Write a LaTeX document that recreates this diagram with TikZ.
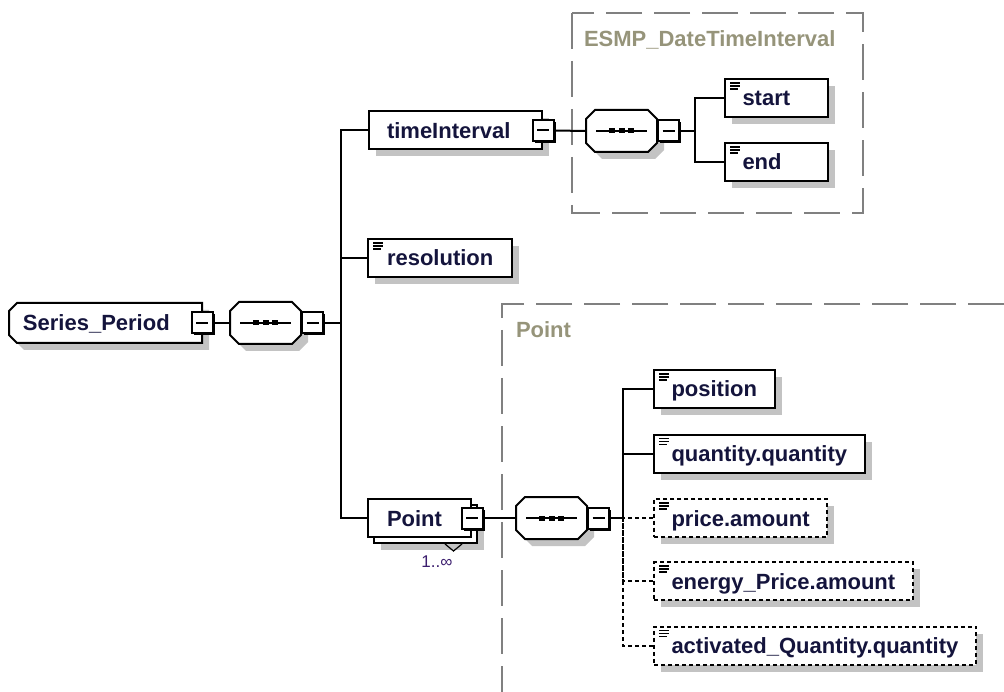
\documentclass[tikz,border=0pt]{standalone}
\usepackage{fontspec}
\setmainfont{Liberation Sans}
\usetikzlibrary{shadows}

\definecolor{elemtext}{RGB}{20,20,60}
\definecolor{grouptext}{RGB}{150,148,122}
\definecolor{shadowgray}{RGB}{195,195,195}
\definecolor{occurs}{RGB}{60,30,110}

% box with cut corners (all four, or only the left two)
\makeatletter
\newif\ifoctbox@right \octbox@righttrue
\pgfkeys{/pgf/octbox cut/.initial=9pt}
\tikzset{left cut only/.code={\octbox@rightfalse}}
\pgfdeclareshape{octbox}{
  \inheritsavedanchors[from=rectangle]
  \inheritanchorborder[from=rectangle]
  \inheritanchor[from=rectangle]{center}
  \inheritanchor[from=rectangle]{mid}
  \inheritanchor[from=rectangle]{base}
  \inheritanchor[from=rectangle]{north}
  \inheritanchor[from=rectangle]{south}
  \inheritanchor[from=rectangle]{east}
  \inheritanchor[from=rectangle]{west}
  \inheritanchor[from=rectangle]{north east}
  \inheritanchor[from=rectangle]{north west}
  \inheritanchor[from=rectangle]{south east}
  \inheritanchor[from=rectangle]{south west}
  \backgroundpath{%
    \southwest \pgf@xa=\pgf@x \pgf@ya=\pgf@y
    \northeast \pgf@xb=\pgf@x \pgf@yb=\pgf@y
    \pgfmathsetlength\pgf@xc{\pgfkeysvalueof{/pgf/octbox cut}}%
    \edef\ob@l{\the\pgf@xa}\edef\ob@r{\the\pgf@xb}%
    \edef\ob@b{\the\pgf@ya}\edef\ob@t{\the\pgf@yb}%
    \advance\pgf@xa by\pgf@xc \advance\pgf@xb by-\pgf@xc
    \advance\pgf@ya by\pgf@xc \advance\pgf@yb by-\pgf@xc
    \edef\ob@li{\the\pgf@xa}\edef\ob@ri{\the\pgf@xb}%
    \edef\ob@bi{\the\pgf@ya}\edef\ob@ti{\the\pgf@yb}%
    \pgfpathmoveto{\pgfqpoint{\ob@li}{\ob@t}}%
    \ifoctbox@right
      \pgfpathlineto{\pgfqpoint{\ob@ri}{\ob@t}}%
      \pgfpathlineto{\pgfqpoint{\ob@r}{\ob@ti}}%
      \pgfpathlineto{\pgfqpoint{\ob@r}{\ob@bi}}%
      \pgfpathlineto{\pgfqpoint{\ob@ri}{\ob@b}}%
    \else
      \pgfpathlineto{\pgfqpoint{\ob@r}{\ob@t}}%
      \pgfpathlineto{\pgfqpoint{\ob@r}{\ob@b}}%
    \fi
    \pgfpathlineto{\pgfqpoint{\ob@li}{\ob@b}}%
    \pgfpathlineto{\pgfqpoint{\ob@l}{\ob@bi}}%
    \pgfpathlineto{\pgfqpoint{\ob@l}{\ob@ti}}%
    \pgfpathclose
  }
}
\makeatother

\begin{document}
\begin{tikzpicture}[x=1pt, y=-1pt, line width=2pt,
      boxshadow/.style={drop shadow={shadow xshift=#1, shadow yshift=-#1, fill=shadowgray, opacity=1}},
      boxshadow/.default=7pt,
      box/.style={draw, fill=white, font=\fontsize{22}{24}\selectfont\bfseries, text=elemtext,
        minimum height=38pt, text height=16pt, text depth=0pt},
      leaf/.style={box, boxshadow, anchor=west, inner xsep=17.5pt, minimum width=103pt,
        path picture={
          \foreach \dy/\len in {4/10, 7/10, 10/8}
            \draw[solid, line width=1.1pt] ([shift={(5,\dy)}]path picture bounding box.north west) -- ++(\len,0);}},
      parent/.style={box, anchor=west, align=left, text width=#1},
      optional/.style={dash pattern=on 4pt off 3pt},
      seq/.style={octbox, draw, fill=white, boxshadow, anchor=west, inner sep=0pt,
        minimum width=69pt, minimum height=40pt,
        path picture={
          \draw ([xshift=10pt]path picture bounding box.west) -- ([xshift=-10pt]path picture bounding box.east);
          \foreach \dx in {-9.5, 0, 9.5}
            \fill[black] ([xshift=\dx pt]path picture bounding box.center) +(-3,-2.5) rectangle +(3,2.5);}},
      minus/.style={draw, fill=white, minimum size=21pt, inner sep=0pt,
        drop shadow={shadow xshift=2pt, shadow yshift=-2pt, fill=black, opacity=1},
        path picture={
          \draw ([xshift=4.5pt]path picture bounding box.west) -- ([xshift=-4.5pt]path picture bounding box.east);}},
      group/.style={draw=gray, line width=1.5pt, dash pattern=on 36pt off 12pt},
      grouplabel/.style={anchor=base west, inner sep=0pt, text=grouptext,
        font=\fontsize{22}{24}\selectfont\bfseries}]

    \useasboundingbox (0,0) rectangle (1004,692);

    % dashed group frames
    \draw[group] (572,13) rectangle (863,213);
    \node[grouplabel] (esmplbl) at (583,47) {ESMP\_DateTimeInterval};
    \draw[group] (1004,304) -- (502,304) -- (502,692);
    \node[grouplabel] (pointlbl) at (515,338) {Point};

    % root
    \node[parent=165pt, inner xsep=13pt, boxshadow, octbox, octbox cut=8pt, left cut only] (series) at (9,323) {Series\_Period};
    \node[minus] (seriesx) at (series.east) {};
    \node[seq] (seq1) at (230,323) {};
    \node[minus, anchor=west] (seq1x) at (seq1.east) {};
    \coordinate (trunk1) at (341,323);

    \node[parent=137pt, inner xsep=18pt, boxshadow] (timeint) at (368,130.5) {timeInterval};
    \node[minus] (timeintx) at (timeint.east) {};
    \node[leaf, inner xsep=19pt] (resolution) at (367,258) {resolution};
    \node[parent=65pt, inner xsep=19pt, boxshadow=13pt,
          copy shadow={shadow xshift=6pt, shadow yshift=-6pt}] (point) at (367,518) {Point};
    \node[minus] (pointx) at (point.east) {};
    \draw[line width=1.2pt] ([shift={(-27,6)}]point.south east) -- ++(8.5,7) -- ++(8.5,-7);
    \node[anchor=base, inner sep=0pt, text=occurs, font=\fontsize{17}{18}\selectfont] (pointocc) at (437,567) {1..∞};

    \draw (seriesx.east) -- (seq1.west);
    \draw (seq1x.east) -- (trunk1);
    \draw (timeint.west) -| (trunk1);
    \draw (resolution.west) -| (trunk1);
    \draw (point.west) -| (trunk1);

    % ESMP_DateTimeInterval
    \node[seq] (seq2) at (586,131) {};
    \node[minus, anchor=west] (seq2x) at (seq2.east) {};
    \coordinate (trunk2) at (695,131);
    \node[leaf, text width=68pt, align=left] (start) at (724,98) {start};
    \node[leaf, text width=68pt, align=left] (end) at (724,162) {end};

    \draw (timeintx.east) -- (seq2.west);
    \draw (seq2x.east) -- (trunk2);
    \draw (start.west) -| (trunk2);
    \draw (end.west) -| (trunk2);

    % Point
    \node[seq] (seq3) at (516,518) {};
    \node[minus, anchor=west] (seq3x) at (seq3.east) {};
    \coordinate (trunk3) at (623,518);
    \node[leaf] (position) at (653,389) {position};
    \node[leaf] (quantity) at (653,453.5) {quantity.quantity};
    \node[leaf, optional] (price) at (653,518) {price.amount};
    \node[leaf, optional] (energy) at (653,581) {energy\_Price.amount};
    \node[leaf, optional] (activated) at (653,645.5) {activated\_Quantity.quantity};

    \draw (pointx.east) -- (seq3.west);
    \draw (seq3x.east) -- (trunk3);
    \draw (position.west) -| (trunk3);
    \draw (quantity.west) -| (trunk3);
    \draw[optional] (price.west) -- (trunk3);
    \draw[optional] (energy.west) -| (trunk3);
    \draw[optional] (activated.west) -| (trunk3);

\end{tikzpicture}
\end{document}
